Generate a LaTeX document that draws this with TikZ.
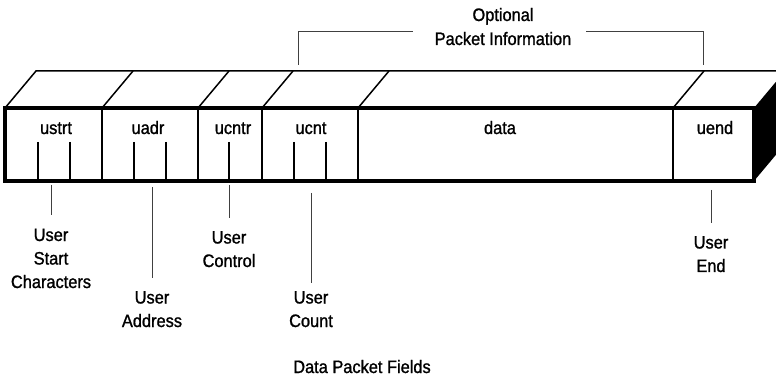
\documentclass[tikz,border=0pt]{standalone}
\usepackage{fontspec}
\setmainfont{Liberation Sans}[FakeStretch=0.91,FakeBold=1.2]
\usetikzlibrary{positioning}

\begin{document}
\begin{tikzpicture}[x=1pt,y=-1pt,
    every node/.style={inner sep=0pt,font=\fontsize{18}{23.5}\selectfont},
    field/.style={anchor=base},
    lbl/.style={anchor=base,align=center},
    face/.style={line width=1.5pt},
    tick/.style={line width=1pt,black!75}]
  \useasboundingbox (0,0) rectangle (776,379);
  \clip (0,0) rectangle (776,379);

  % top face of the packet
  \draw[face] (5,108) -- ++(31,-37) -- (800,71);
  \draw[face] (102,108) -- ++(31,-37);
  \draw[face] (198,108) -- ++(31,-37);
  \draw[face] (262,108) -- ++(31,-37);
  \draw[face] (358,108) -- ++(31,-37);
  \draw[face] (673,108) -- ++(31,-37);
  % right face
  \fill (754,108) -- ++(31,-37) -- ++(0,73) -- (754,181) -- cycle;

  % front face with the field borders
  \draw[face] (102,108) -- (102,181);
  \draw[face] (198,108) -- (198,181);
  \draw[face] (262,108) -- (262,181);
  \draw[face] (358,108) -- (358,181);
  \draw[face] (673,108) -- (673,181);
  \draw[line width=3.5pt] (5,108) rectangle (754,181);

  % field names
  \node[field] (ustrt) at (56,134) {ustrt};
  \node[field] (uadr) at (148,134) {uadr};
  \node[field] (ucntr) at (233,134) {ucntr};
  \node[field] (ucnt) at (311,134) {ucnt};
  \node[field] (data) at (500,134) {data};
  \node[field] (uend) at (715,134) {uend};

  % marks inside the fields
  \draw[face] (38,142) -- (38,181);
  \draw[face] (70,142) -- (70,181);
  \draw[face] (134,142) -- (134,181);
  \draw[face] (166,142) -- (166,181);
  \draw[face] (229,142) -- (229,181);
  \draw[face] (294,142) -- (294,181);
  \draw[face] (326,142) -- (326,181);

  % descriptions under the packet (base = last line)
  \node[lbl] (start) at (51,288) {User\\Start\\Characters};
  \node[lbl] (addr) at (152,327) {User\\Address};
  \node[lbl] (ctrl) at (229,267) {User\\Control};
  \node[lbl] (count) at (311,327) {User\\Count};
  \node[lbl] (uendlbl) at (711,272) {User\\End};
  \node[anchor=base] (caption) at (362,373) {Data Packet Fields};

  \coordinate (tStart) at (51,185);
  \coordinate (tAddr) at (152,187);
  \coordinate (tCtrl) at (229,185);
  \coordinate (tCount) at (311,193);
  \coordinate (tEnd) at (711,190);
  \draw[tick,shorten >=13pt] (tStart) -- (start.north);
  \draw[tick,shorten >=13pt] (tAddr) -- (addr.north);
  \draw[tick,shorten >=13pt] (tCtrl) -- (ctrl.north);
  \draw[tick,shorten >=8pt] (tCount) -- (count.north);
  \draw[tick,shorten >=13pt] (tEnd) -- (uendlbl.north);

  % optional part bracket
  \node[anchor=base] (opt) at (503,21) {Optional};
  \node[anchor=base] (info) at (503,45) {Packet Information};
  \coordinate (brL) at (298,65);
  \coordinate (brR) at (703,65);
  \draw[tick] (brL) |- ([xshift=-22pt]info.north west);
  \draw[tick] (brR) |- ([xshift=15pt]info.north east);
\end{tikzpicture}
\end{document}
